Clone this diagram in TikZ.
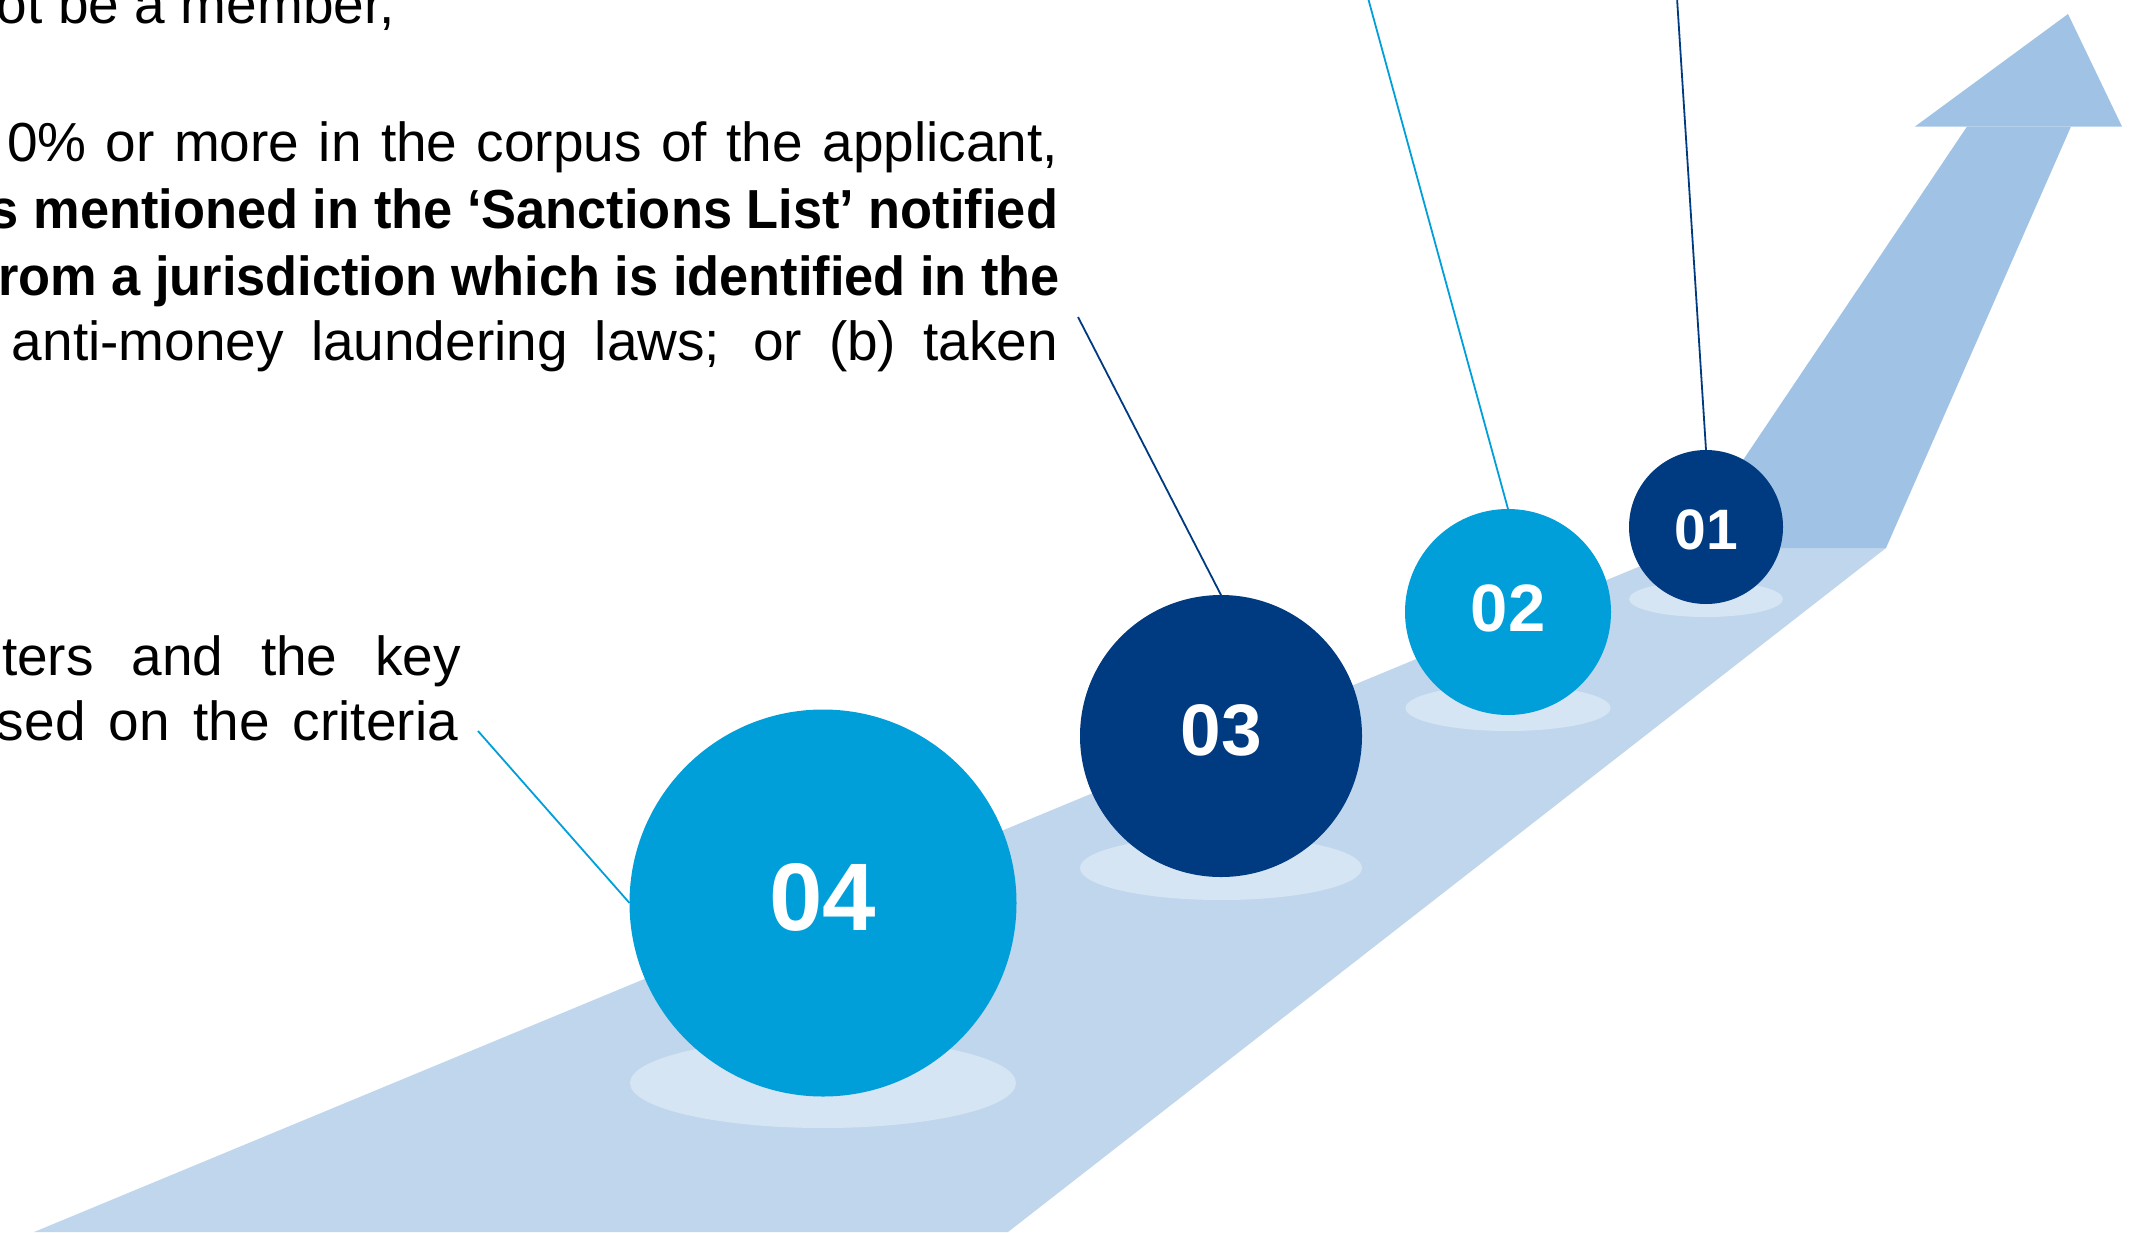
\documentclass[tikz,border=0pt]{standalone}
\usepackage{fontspec}
\setmainfont{Liberation Sans}
\usepackage{graphicx}
\usetikzlibrary{shapes.geometric}
\definecolor{roadc}{HTML}{BFD6EC}
\definecolor{arrowc}{HTML}{A0C3E5}
\definecolor{shadowc}{HTML}{D5E5F3}
\definecolor{lightc}{HTML}{009FDA}
\definecolor{navyc}{HTML}{003A80}
\newsavebox\fitbox
\newcommand\fitline[2]{\sbox\fitbox{#2}\ifdim\wd\fitbox>#1\relax\resizebox{#1}{\ht\fitbox}{#2}\else\makebox[#1][s]{#2}\fi}
\begin{document}
\begin{tikzpicture}[x=1pt,y=-1pt,
  txt/.style={anchor=base east, inner sep=0pt, outer sep=0pt, font=\fontsize{55}{66}\selectfont},
  ball/.style={circle, inner sep=0pt, outer sep=0pt},
  numlbl/.style={inner sep=0pt, text=white},
  shade/.style={ellipse, fill=shadowc, inner sep=0pt, outer sep=0pt},
  conn/.style={line width=1.8pt}]
\useasboundingbox (0,0) rectangle (2151,1232);
\clip (0,0) rectangle (2151,1232);
% road and arrow
\fill[roadc] (34,1232) -- (1684,548) -- (1886,548) -- (1008,1232) -- cycle;
\fill[arrowc] (1684,548) -- (1967,126.5) -- (2071,126.5) -- (1886,548) -- cycle;
\fill[arrowc] (1915,126.5) -- (2122,126.5) -- (2068,14) -- cycle;
% shadows
\node[shade, minimum width=386pt, minimum height=90pt] (s4) at (823,1083) {};
\node[shade, minimum width=282pt, minimum height=64pt] (s3) at (1221,868) {};
\node[shade, minimum width=205pt, minimum height=46pt] (s2) at (1508,708) {};
\node[shade, minimum width=154pt, minimum height=36pt] (s1) at (1706,599) {};
% balls
\node[ball, fill=lightc, minimum size=387pt] (c4) at (823,903) {};
\node[ball, fill=navyc, minimum size=282pt] (c3) at (1221,736) {};
\node[ball, fill=lightc, minimum size=206pt] (c2) at (1508,612) {};
\node[ball, fill=navyc, minimum size=154pt] (c1) at (1706,527) {};
\node[numlbl, font=\bfseries\fontsize{96}{96}\selectfont] (n4) at ([yshift=6pt]c4.center) {04};
\node[numlbl, font=\bfseries\fontsize{73}{73}\selectfont] (n3) at ([yshift=6pt]c3.center) {03};
\node[numlbl, font=\bfseries\fontsize{67}{67}\selectfont] (n2) at ([yshift=4pt]c2.center) {02};
\node[numlbl, font=\bfseries\fontsize{57}{57}\selectfont] (n1) at ([yshift=-2.5pt]c1.center) {01};
% connector free ends
\coordinate (e4) at (478,731);
\coordinate (e3) at (1078,317);
\coordinate (e2) at (1368,-2);
\coordinate (e1) at (1677,-2);
\draw[conn, lightc] (e4) -- (c4.west);
\draw[conn, navyc] (e3) -- (c3.north);
\draw[conn, lightc] (e2) -- (c2.north);
\draw[conn, navyc] (e1) -- (c1.north);
% text block 1
\node[txt] (t1) at (395,23) {\fitline{398pt}{ot be a member,}};
\node[txt] (t2) at (1058,161.7) {\fitline{1051pt}{0\% or more in the corpus of the applicant,}};
\node[txt] (t3) at (1058,228.3) {\fitline{1068pt}{\bfseries s mentioned in the ‘Sanctions List’ notified}};
\node[txt] (t4) at (1060,295) {\fitline{1062pt}{\bfseries rom a jurisdiction which is identified in the}};
\node[txt] (t5) at (1058,360) {\fitline{1046pt}{anti-money laundering laws; or (b) taken}};
% text block 2
\node[txt] (t6) at (461,675.5) {\fitline{459pt}{ters and the key}};
\node[txt] (t7) at (458,740) {\fitline{461pt}{sed on the criteria}};
\end{tikzpicture}
\end{document}
